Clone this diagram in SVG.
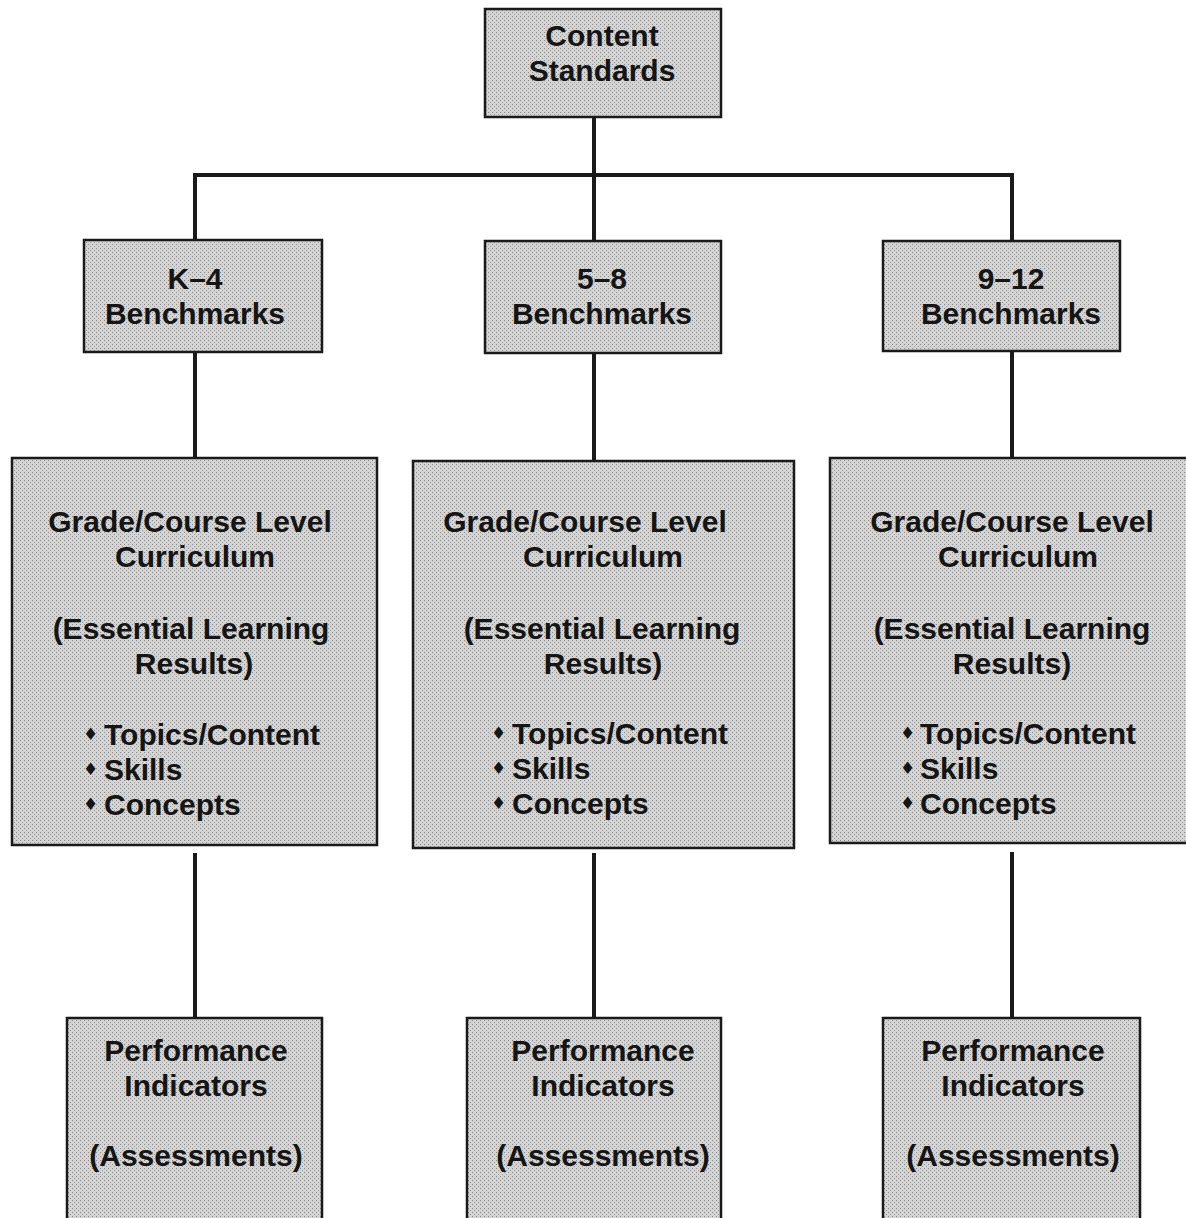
<svg xmlns="http://www.w3.org/2000/svg" width="1186" height="1218" viewBox="0 0 1186 1218">
<defs>
<pattern id="stip" width="4" height="4" patternUnits="userSpaceOnUse">
<rect width="4" height="4" fill="#d4d4d4"/>
<rect x="0" y="0" width="1" height="1" fill="#888888"/>
<rect x="2" y="2" width="1" height="1" fill="#999999"/>
</pattern>
</defs>
<style>
.box{fill:url(#stip);stroke:#1a1a1a;stroke-width:2.5}
.t{font-family:"Liberation Sans",Arial,sans-serif;font-weight:bold;font-size:30px;fill:#151515;text-anchor:middle}
.b{font-family:"Liberation Sans",Arial,sans-serif;font-weight:bold;font-size:30px;fill:#151515}
.d{font-family:"DejaVu Sans",sans-serif;font-size:17px;fill:#151515}
.c{stroke:#1a1a1a;stroke-width:4;fill:none}
</style>
<rect width="1186" height="1218" fill="#ffffff"/>
<g id="connectors">
<path class="c" d="M594 117 V175 M193 175 H1014 M195 175 V240 M594 175 V241 M1012 175 V241"/>
<path class="c" d="M195 352 V458 M594 353 V461 M1012 351 V458"/>
<path class="c" d="M195 853 V1018 M594 853 V1018 M1012 852 V1018"/>
</g>
<g id="content-standards">
<rect class="box" x="485" y="9" width="236" height="108"/>
<text class="t" x="602" y="46">Content</text>
<text class="t" x="602" y="81">Standards</text>
</g>
<g id="k4-benchmarks">
<rect class="box" x="84" y="240" width="238" height="112"/>
<text class="t" x="195" y="289">K–4</text>
<text class="t" x="195" y="324">Benchmarks</text>
</g>
<g id="58-benchmarks">
<rect class="box" x="485" y="241" width="236" height="112"/>
<text class="t" x="602" y="289">5–8</text>
<text class="t" x="602" y="324">Benchmarks</text>
</g>
<g id="912-benchmarks">
<rect class="box" x="883" y="241" width="237" height="110"/>
<text class="t" x="1011" y="289">9–12</text>
<text class="t" x="1011" y="324">Benchmarks</text>
</g>
<g id="k4-curriculum">
<rect class="box" x="12" y="458" width="365" height="387"/>
<text class="t" x="190" y="532">Grade/Course Level</text>
<text class="t" x="195" y="567">Curriculum</text>
<text class="t" x="191" y="639">(Essential Learning</text>
<text class="t" x="194" y="674">Results)</text>
<text class="d" x="83" y="740">♦</text><text class="b" x="104" y="745">Topics/Content</text>
<text class="d" x="83" y="775">♦</text><text class="b" x="104" y="780">Skills</text>
<text class="d" x="83" y="810">♦</text><text class="b" x="104" y="815">Concepts</text>
</g>
<g id="58-curriculum">
<rect class="box" x="413" y="461" width="381" height="387"/>
<text class="t" x="585" y="532">Grade/Course Level</text>
<text class="t" x="603" y="567">Curriculum</text>
<text class="t" x="602" y="639">(Essential Learning</text>
<text class="t" x="603" y="674">Results)</text>
<text class="d" x="491" y="739">♦</text><text class="b" x="512" y="744">Topics/Content</text>
<text class="d" x="491" y="774">♦</text><text class="b" x="512" y="779">Skills</text>
<text class="d" x="491" y="809">♦</text><text class="b" x="512" y="814">Concepts</text>
</g>
<g id="912-curriculum">
<rect class="box" x="830" y="458" width="360" height="385"/>
<text class="t" x="1012" y="532">Grade/Course Level</text>
<text class="t" x="1018" y="567">Curriculum</text>
<text class="t" x="1012" y="639">(Essential Learning</text>
<text class="t" x="1012" y="674">Results)</text>
<text class="d" x="900" y="739">♦</text><text class="b" x="920" y="744">Topics/Content</text>
<text class="d" x="900" y="774">♦</text><text class="b" x="920" y="779">Skills</text>
<text class="d" x="900" y="809">♦</text><text class="b" x="920" y="814">Concepts</text>
</g>
<g id="k4-performance">
<rect class="box" x="67" y="1018" width="255" height="210"/>
<text class="t" x="196" y="1061">Performance</text>
<text class="t" x="196" y="1096">Indicators</text>
<text class="t" x="196" y="1166">(Assessments)</text>
</g>
<g id="58-performance">
<rect class="box" x="467" y="1018" width="254" height="210"/>
<text class="t" x="603" y="1061">Performance</text>
<text class="t" x="603" y="1096">Indicators</text>
<text class="t" x="603" y="1166">(Assessments)</text>
</g>
<g id="912-performance">
<rect class="box" x="883" y="1018" width="257" height="210"/>
<text class="t" x="1013" y="1061">Performance</text>
<text class="t" x="1013" y="1096">Indicators</text>
<text class="t" x="1013" y="1166">(Assessments)</text>
</g>
</svg>
